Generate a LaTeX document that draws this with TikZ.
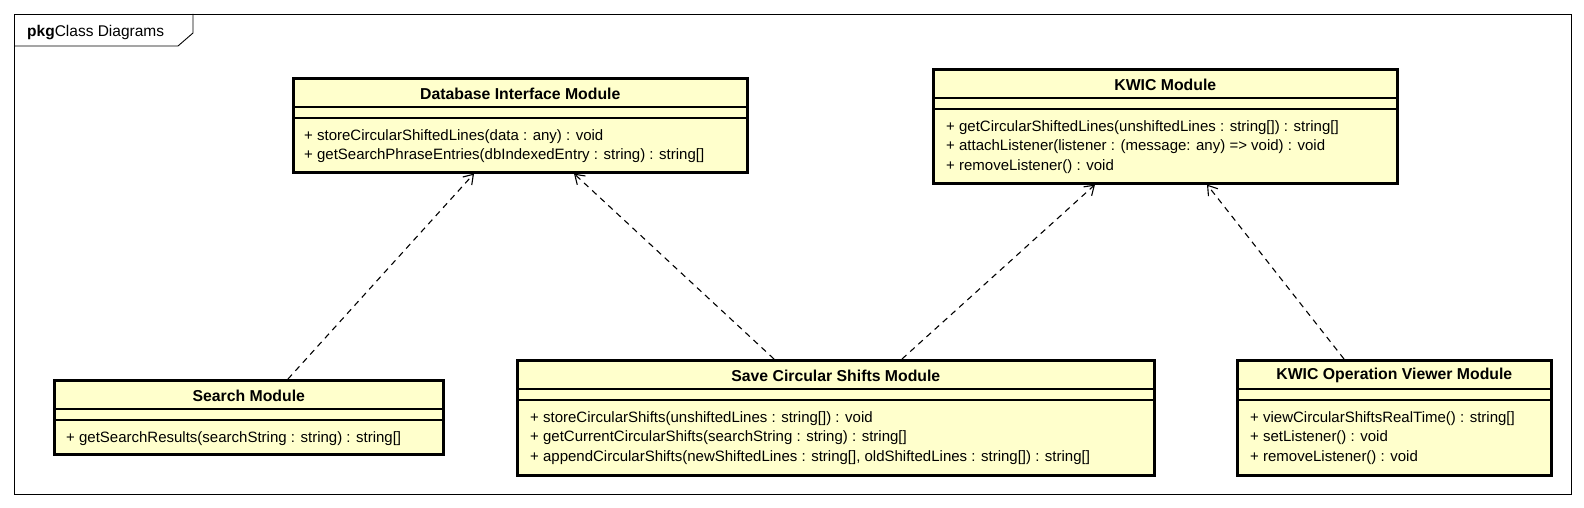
\documentclass[tikz,border=0pt]{standalone}
\usepackage{fontspec}
\setmainfont{Liberation Sans}
\usetikzlibrary{arrows.meta}

\begin{document}
\begin{tikzpicture}[x=1pt, y=-1pt,
    classbox/.style={draw, line width=2.6pt, fill=classfill, anchor=north west, inner sep=0pt},
    classname/.style={font=\fontsize{15.8}{18}\selectfont\bfseries},
    opslist/.style={font=\fontsize{15}{19.5}\selectfont, align=left, anchor=north west, inner sep=0pt},
    compart/.style={line width=1.3pt},
    depend/.style={-{Straight Barb[length=9pt,width=12pt]}, line width=1.1pt, dash pattern=on 6pt off 5pt}]

    % Colors
    \definecolor{classfill}{RGB}{255,255,204}

    \useasboundingbox (0,0) rectangle (1584,508);

    % Package frame
    \draw[line width=0.9pt] (14,14) rectangle (1571,494);
    \draw[line width=0.9pt] (14,46) -- (178,46) -- (193,33) -- (193,14);
    \node[anchor=west, inner sep=0pt, font=\fontsize{15.5}{18}\selectfont] (pkglabel) at (27,33) {\textbf{pkg}Class Diagrams};

    % Classes
    % Database Interface Module
    \node[classbox, minimum width=454pt, minimum height=94pt] (dbmod) at (292,77) {};
    \node[classname] (dbname) at ([yshift=-16.5pt]dbmod.north) {Database Interface Module};
    \draw[compart] ([yshift=-30pt]dbmod.north west) -- ([yshift=-30pt]dbmod.north east);
    \draw[compart] ([yshift=-41pt]dbmod.north west) -- ([yshift=-41pt]dbmod.north east);
    \node[opslist] (dbops) at ([xshift=12pt,yshift=-52pt]dbmod.north west)
        {+ storeCircularShiftedLines(data : any) : void\\
         + getSearchPhraseEntries(dbIndexedEntry : string) : string[]};

    % KWIC Module
    \node[classbox, minimum width=464pt, minimum height=114pt] (kwicmod) at (932,68) {};
    \node[classname] (kwicname) at ([yshift=-16.5pt]kwicmod.north) {KWIC Module};
    \draw[compart] ([yshift=-30pt]kwicmod.north west) -- ([yshift=-30pt]kwicmod.north east);
    \draw[compart] ([yshift=-41pt]kwicmod.north west) -- ([yshift=-41pt]kwicmod.north east);
    \node[opslist] (kwicops) at ([xshift=14pt,yshift=-52pt]kwicmod.north west)
        {+ getCircularShiftedLines(unshiftedLines : string[]) : string[]\\
         + attachListener(listener : (message: any) => void) : void\\
         + removeListener() : void};

    % Search Module
    \node[classbox, minimum width=389pt, minimum height=74pt] (searchmod) at (53,379) {};
    \node[classname] (searchname) at ([yshift=-16.5pt]searchmod.north) {Search Module};
    \draw[compart] ([yshift=-30pt]searchmod.north west) -- ([yshift=-30pt]searchmod.north east);
    \draw[compart] ([yshift=-41pt]searchmod.north west) -- ([yshift=-41pt]searchmod.north east);
    \node[opslist] (searchops) at ([xshift=13pt,yshift=-52pt]searchmod.north west)
        {+ getSearchResults(searchString : string) : string[]};

    % Save Circular Shifts Module
    \node[classbox, minimum width=637pt, minimum height=115pt] (savemod) at (516,359) {};
    \node[classname] (savename) at ([yshift=-16.5pt]savemod.north) {Save Circular Shifts Module};
    \draw[compart] ([yshift=-30pt]savemod.north west) -- ([yshift=-30pt]savemod.north east);
    \draw[compart] ([yshift=-41pt]savemod.north west) -- ([yshift=-41pt]savemod.north east);
    \node[opslist] (saveops) at ([xshift=14pt,yshift=-52pt]savemod.north west)
        {+ storeCircularShifts(unshiftedLines : string[]) : void\\
         + getCurrentCircularShifts(searchString : string) : string[]\\
         + appendCircularShifts(newShiftedLines : string[], oldShiftedLines : string[]) : string[]};

    % KWIC Operation Viewer Module
    \node[classbox, minimum width=314pt, minimum height=115pt] (viewmod) at (1236,359) {};
    \node[classname] (viewname) at ([yshift=-16.5pt]viewmod.north) {KWIC Operation Viewer Module};
    \draw[compart] ([yshift=-30pt]viewmod.north west) -- ([yshift=-30pt]viewmod.north east);
    \draw[compart] ([yshift=-41pt]viewmod.north west) -- ([yshift=-41pt]viewmod.north east);
    \node[opslist] (viewops) at ([xshift=14pt,yshift=-52pt]viewmod.north west)
        {+ viewCircularShiftsRealTime() : string[]\\
         + setListener() : void\\
         + removeListener() : void};

    % Dependencies
    \draw[depend] ([xshift=235pt]searchmod.north west) -- ([xshift=182pt]dbmod.south west);
    \draw[depend] ([xshift=258pt]savemod.north west) -- ([xshift=282pt]dbmod.south west);
    \draw[depend] ([xshift=386pt]savemod.north west) -- ([xshift=163pt]kwicmod.south west);
    \draw[depend] ([xshift=108pt]viewmod.north west) -- ([xshift=275pt]kwicmod.south west);

\end{tikzpicture}
\end{document}
